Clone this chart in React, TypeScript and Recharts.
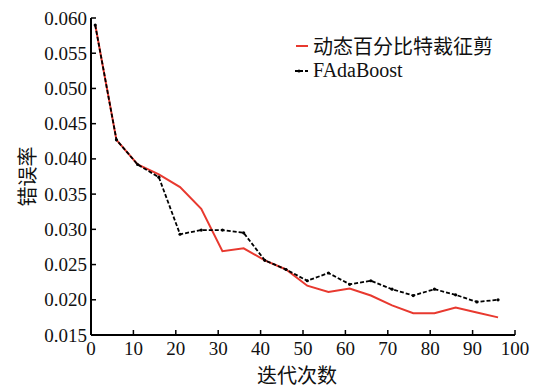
import { CartesianGrid, Legend, Line, LineChart, XAxis, YAxis } from "recharts";

const iterations = [1, 6, 11, 16, 21, 26, 31, 36, 41, 46, 51, 56, 61, 66, 71, 76, 81, 86, 91, 96];
const dynamicPruning = [
  0.059, 0.0427, 0.0392, 0.0378, 0.036, 0.0329, 0.0269, 0.0273, 0.0256, 0.0243,
  0.022, 0.0211, 0.0216, 0.0206, 0.0192, 0.0181, 0.0181, 0.0189, 0.0182, 0.0175,
];
const fAdaBoost = [
  0.059, 0.0427, 0.0392, 0.0374, 0.0293, 0.0299, 0.0299, 0.0295, 0.0256, 0.0243,
  0.0227, 0.0238, 0.0222, 0.0227, 0.0215, 0.0206, 0.0215, 0.0207, 0.0197, 0.02,
];
const xTicks = [0, 10, 20, 30, 40, 50, 60, 70, 80, 90, 100];
const yTicks = [0.015, 0.02, 0.025, 0.03, 0.035, 0.04, 0.045, 0.05, 0.055, 0.06];

const data = iterations.map((it, i) => ({
  it,
  dyn: dynamicPruning[i],
  fada: fAdaBoost[i],
}));

const FONT = "Liberation Serif, DejaVu Serif, serif";
const CJK = "Noto Sans CJK SC, sans-serif";

function XTick(props: any) {
  const { x, y, payload } = props;
  return (
    <g>
      <line x1={x} y1={y} x2={x} y2={y - 5} stroke="#000" strokeWidth={1.5} />
      <text x={x} y={y + 20} textAnchor="middle" fontSize={19} style={{ fontFamily: FONT }} fill="#111">
        {payload.value}
      </text>
    </g>
  );
}

function YTick(props: any) {
  const { x, y, payload } = props;
  return (
    <g>
      <line x1={x} y1={y} x2={x + 5} y2={y} stroke="#000" strokeWidth={1.5} />
      <text x={x - 4} y={y + 6.5} textAnchor="end" fontSize={19} style={{ fontFamily: FONT }} fill="#111">
        {payload.value.toFixed(3)}
      </text>
    </g>
  );
}

function Dot(props: any) {
  const { cx, cy } = props;
  return <circle cx={cx} cy={cy} r={1.6} fill="#000" />;
}

function XTitle(props: any) {
  const vb = props.viewBox;
  return (
    <text x={vb.x + vb.width / 2 - 6} y={vb.y + 48} textAnchor="middle" fontSize={20} style={{ fontFamily: CJK }} fill="#111">
      迭代次数
    </text>
  );
}

function YTitle(props: any) {
  const vb = props.viewBox;
  const cx = vb.x + 26;
  const cy = vb.y + vb.height / 2;
  return (
    <text
      x={cx}
      y={cy}
      transform={`rotate(-90 ${cx} ${cy})`}
      textAnchor="middle"
      dominantBaseline="central"
      fontSize={20}
      style={{ fontFamily: CJK }}
      fill="#111"
    >
      错误率
    </text>
  );
}

function LegendBox() {
  return (
    <div style={{ fontFamily: CJK, fontSize: 20, color: "#111", lineHeight: "25px" }}>
      <div style={{ display: "flex", alignItems: "center" }}>
        <svg width={20} height={25}>
          <line x1={3} y1={13} x2={15} y2={13} stroke="#e8392f" strokeWidth={2} />
        </svg>
        <span>动态百分比特裁征剪</span>
      </div>
      <div style={{ display: "flex", alignItems: "center" }}>
        <svg width={20} height={25}>
          <line x1={2} y1={13} x2={16} y2={13} stroke="#000" strokeWidth={1.8} strokeDasharray="3 2" />
          <circle cx={6} cy={13} r={1.6} fill="#000" />
        </svg>
        <span style={{ fontFamily: FONT }}>FAdaBoost</span>
      </div>
    </div>
  );
}

export default function App() {
  return (
    <div style={{ position: "absolute", left: 0, top: 0, background: "#fff" }}>
      <LineChart width={534} height={390} data={data} margin={{ top: 18, right: 19, bottom: 0, left: 0 }}>
        <CartesianGrid stroke="none" />
        <XAxis
          dataKey="it"
          type="number"
          domain={[0, 100]}
          ticks={xTicks}
          height={55}
          tickSize={0}
          tickMargin={0}
          tickLine={false}
          tick={<XTick />}
          axisLine={{ stroke: "#000", strokeWidth: 2 }}
          label={<XTitle />}
        />
        <YAxis
          type="number"
          domain={[0.015, 0.06]}
          ticks={yTicks}
          width={91}
          tickSize={0}
          tickMargin={0}
          tickLine={false}
          tick={<YTick />}
          axisLine={{ stroke: "#000", strokeWidth: 2 }}
          label={<YTitle />}
        />
        <Legend
          verticalAlign="middle"
          align="center"
          layout="vertical"
          content={() => <LegendBox />}
          wrapperStyle={{ position: "absolute", left: 293, top: 33, width: 240 }}
        />
        <Line
          type="linear"
          dataKey="dyn"
          stroke="#e8392f"
          strokeWidth={2}
          dot={false}
          isAnimationActive={false}
        />
        <Line
          type="linear"
          dataKey="fada"
          stroke="#000"
          strokeWidth={1.8}
          strokeDasharray="4 2"
          dot={<Dot />}
          isAnimationActive={false}
        />
      </LineChart>
    </div>
  );
}
